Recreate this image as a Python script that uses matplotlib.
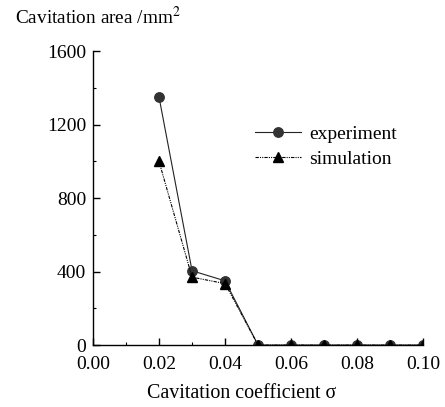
import numpy as np
import matplotlib
matplotlib.use('Agg')
import matplotlib.pyplot as plt
from matplotlib.ticker import MultipleLocator

plt.rcParams['font.family'] = ['Liberation Serif', 'DejaVu Serif']
plt.rcParams['mathtext.fontset'] = 'stix'

# data
sigma = [0.02, 0.03, 0.04, 0.05, 0.06, 0.07, 0.08, 0.09, 0.10]
experiment = [1350, 405, 350, 0, 0, 0, 0, 0, 0]
simulation = [1000, 370, 335, 0, 0, 0, 0, 0, 0]

fig = plt.figure(figsize=(4.45, 4.07), dpi=100)
ax = fig.add_axes([0.209, 0.152, 0.742, 0.722])

ax.plot(sigma, experiment, '-', color='#222222', lw=0.8, marker='o', ms=6.8,
        mfc='#333333', mec='#333333', label='experiment', zorder=3)
ax.plot(sigma, simulation, color='black', lw=0.8, ls=(0, (3, 1, 1, 1, 1, 1)),
        marker='^', ms=7.5, mfc='black', mec='black', label='simulation',
        zorder=4)

ax.set_xlim(0, 0.10)
ax.set_ylim(0, 1600)
ax.xaxis.set_major_locator(MultipleLocator(0.02))
ax.xaxis.set_minor_locator(MultipleLocator(0.01))
ax.yaxis.set_major_locator(MultipleLocator(400))
ax.yaxis.set_minor_locator(MultipleLocator(200))
ax.xaxis.set_major_formatter(plt.FormatStrFormatter('%.2f'))

for s in ['top', 'right']:
    ax.spines[s].set_visible(False)
for s in ['left', 'bottom']:
    ax.spines[s].set_linewidth(1.0)
    ax.spines[s].set_zorder(5)

ax.tick_params(direction='in', length=5, width=1, labelsize=14)
ax.tick_params(axis='x', pad=7.5)
ax.tick_params(axis='y', pad=5)
ax.tick_params(which='minor', direction='in', length=2.5, width=0.8)

fig.text(0.544, 0.034, 'Cavitation coefficient σ', fontsize=14.4,
         ha='center', va='center')
fig.text(0.034, 0.957, 'Cavitation area /mm$^2$', fontsize=13.9, va='center')

ax.legend(loc='upper left', bbox_to_anchor=(0.46, 0.78), frameon=False,
          fontsize=14, handlelength=2.4, handletextpad=0.4, labelspacing=0.38,
          borderpad=0)

fig.savefig('out.png', dpi=100)
